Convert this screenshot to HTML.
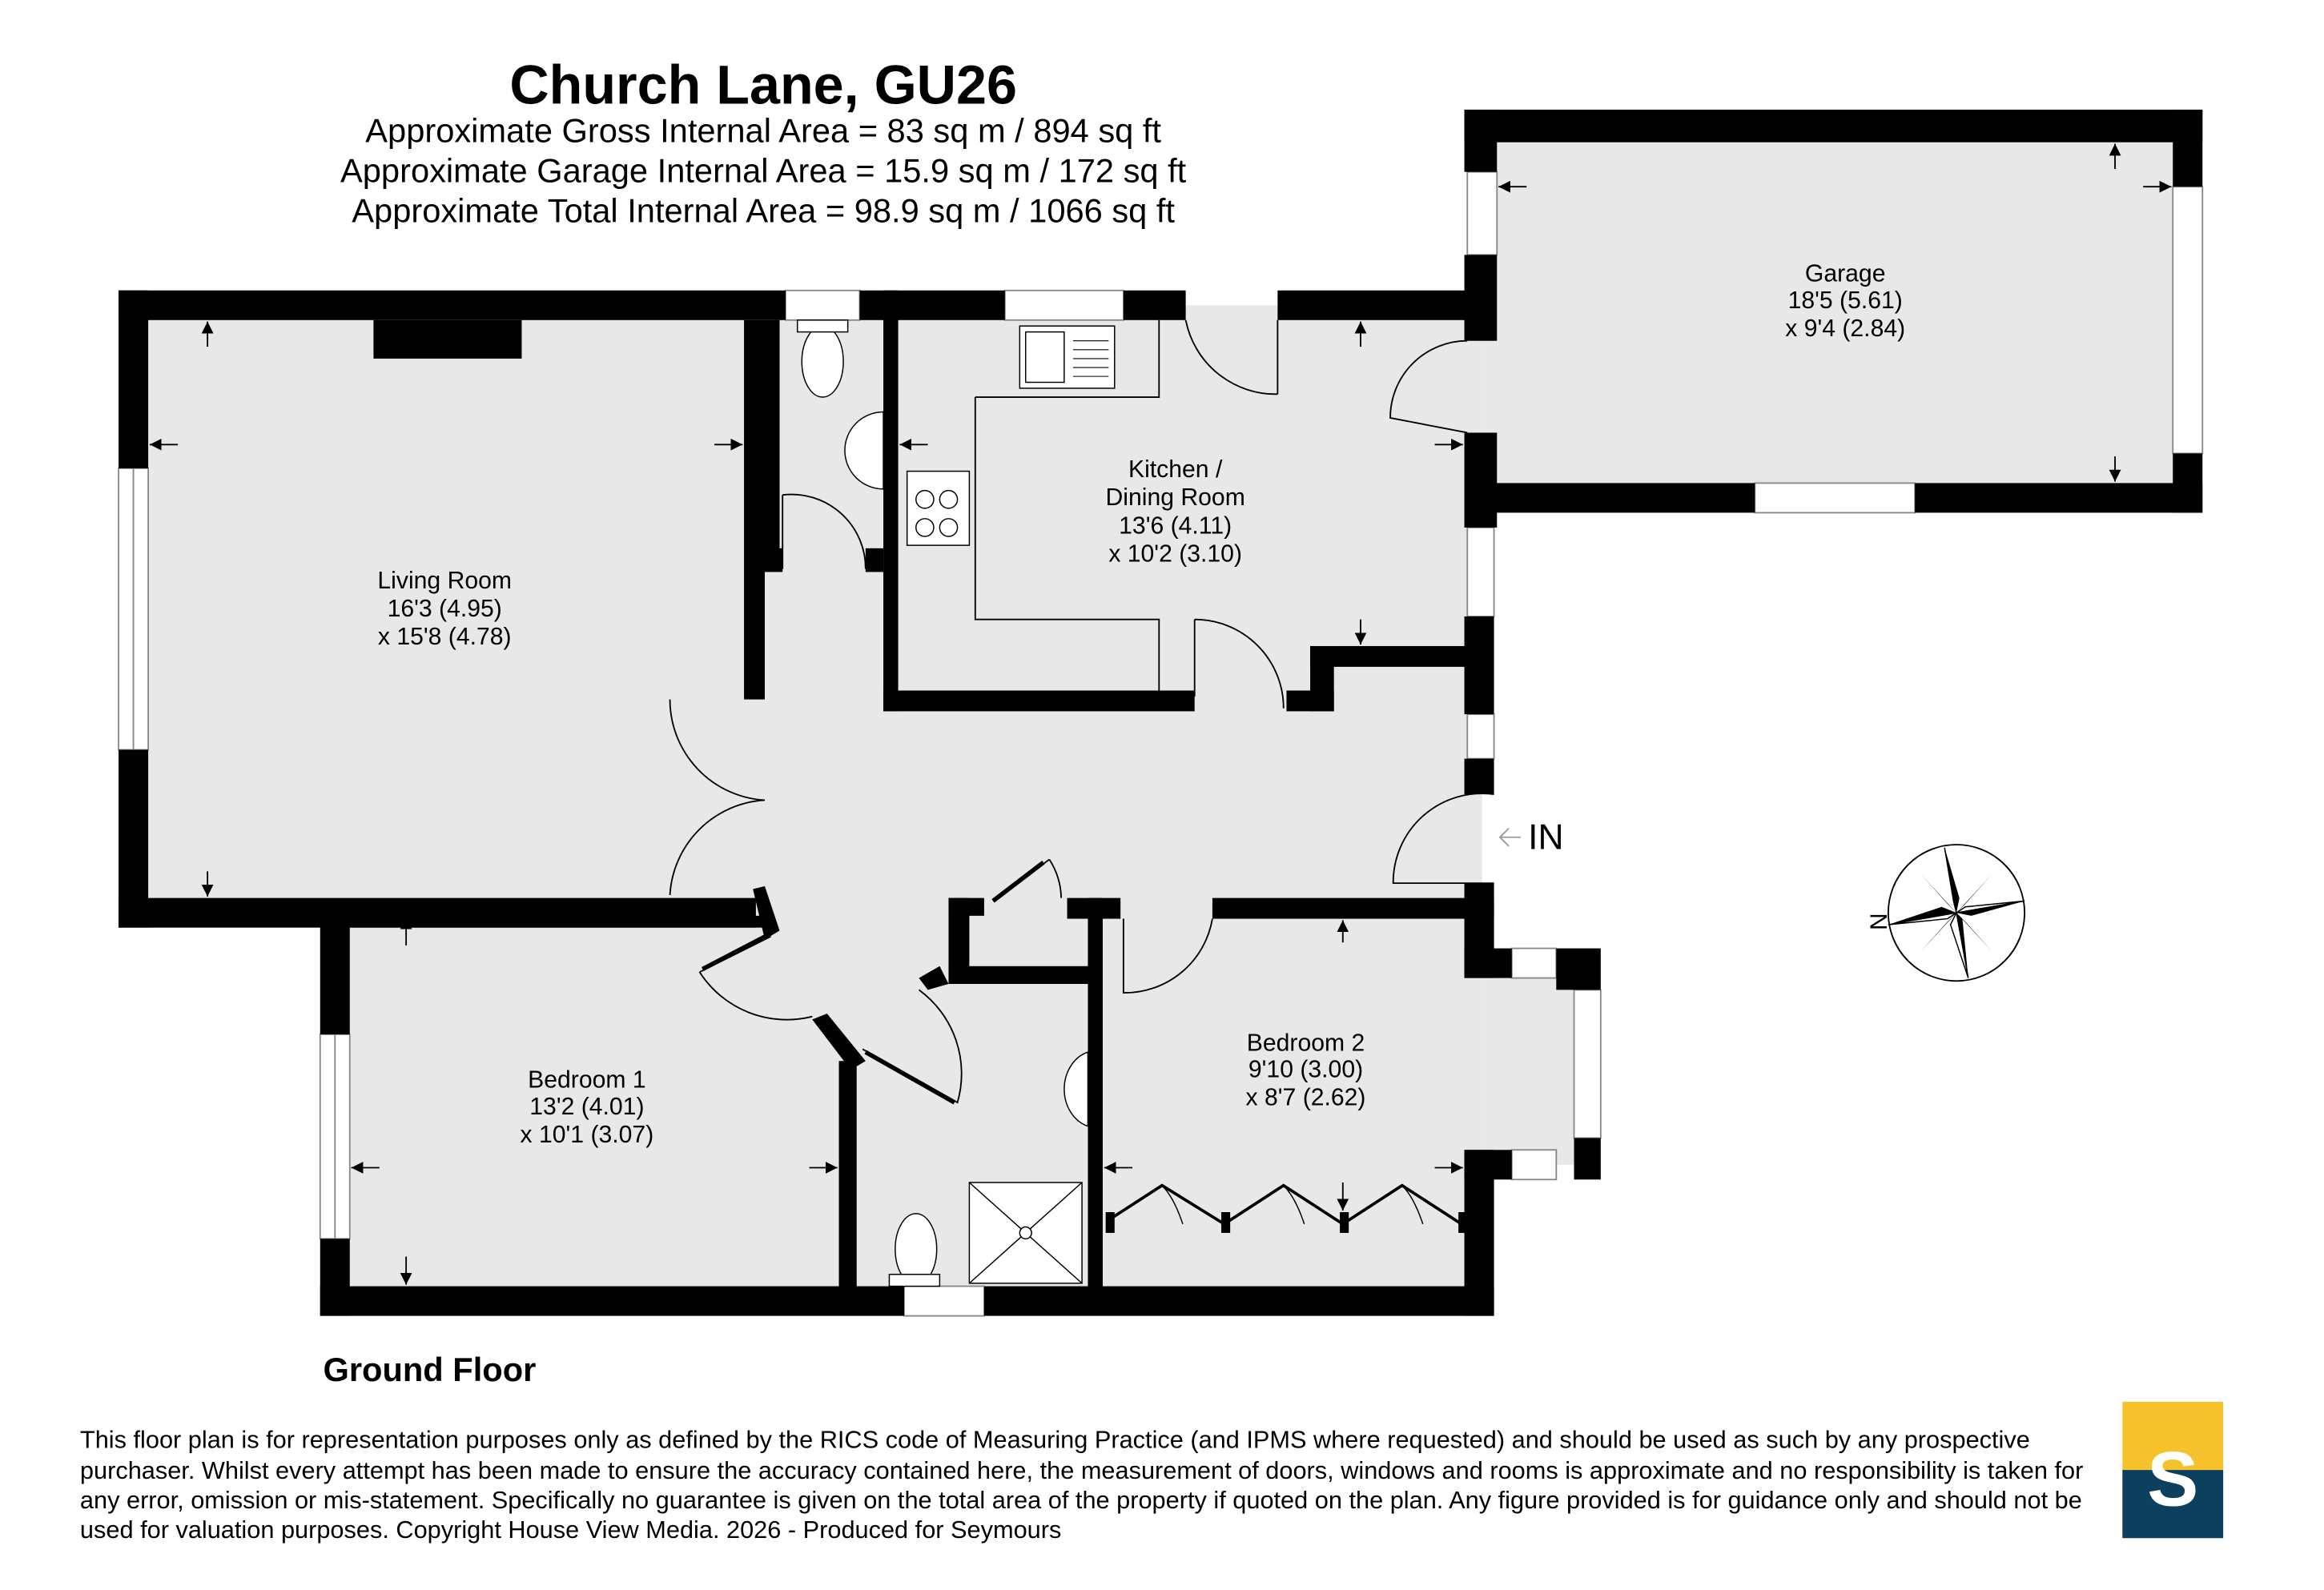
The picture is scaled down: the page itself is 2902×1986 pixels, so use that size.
<!DOCTYPE html>
<html><head><meta charset="utf-8"><style>html,body{margin:0;padding:0;background:#fff}svg{display:block}text{font-family:"Liberation Sans",sans-serif}</style></head>
<body>
<svg width="2902" height="1986" viewBox="0 0 1568 1073" preserveAspectRatio="none" xmlns="http://www.w3.org/2000/svg">
<defs><marker id="ah" viewBox="0 0 10 10" refX="10" refY="5" markerWidth="8" markerHeight="8" orient="auto-start-reverse" markerUnits="userSpaceOnUse"><path d="M10,5 L0,0 L0,10 Z" fill="#000"/></marker></defs>
<rect width="1568" height="1073" fill="#fff"/>
<g fill="#e8e8e8">
<rect x="90" y="206" width="420" height="410"/>
<rect x="500" y="206" width="500" height="410"/>
<rect x="226" y="610" width="520" height="268"/>
<rect x="740" y="610" width="260" height="268"/>
<rect x="1000" y="650" width="70" height="136"/>
<rect x="1000" y="86" width="476" height="250"/>
</g>
<g fill="#fff" stroke="#888" stroke-width="1">
<rect x="80" y="316" width="20" height="190"/><line x1="90" y1="316" x2="90" y2="506"/>
<rect x="216" y="698" width="20" height="138"/><line x1="226" y1="698" x2="226" y2="836"/>
<rect x="530" y="196" width="50" height="20"/>
<rect x="678" y="196" width="80" height="20"/>
<rect x="990" y="116" width="20" height="56"/>
<rect x="1466" y="126" width="20" height="180"/>
<rect x="1184" y="326" width="108" height="20"/>
<rect x="990" y="356" width="18" height="60"/>
<rect x="990" y="482" width="18" height="30"/>
<rect x="1062" y="668" width="18" height="100"/>
<rect x="1020" y="640" width="30" height="20"/>
<rect x="1020" y="776" width="30" height="20"/>
<rect x="610" y="868" width="54" height="20"/>
</g>
<g fill="#000">
<rect x="80" y="196" width="450" height="20"/>
<rect x="580" y="196" width="98" height="20"/>
<rect x="758" y="196" width="42" height="20"/>
<rect x="862" y="196" width="128" height="20"/>
<rect x="80" y="196" width="20" height="120"/>
<rect x="80" y="506" width="20" height="120"/>
<rect x="80" y="606" width="430" height="20"/>
<rect x="252" y="216" width="100" height="26"/>
<rect x="502" y="216" width="14" height="256"/>
<rect x="516" y="216" width="10" height="168"/>
<rect x="516" y="370" width="12" height="16"/>
<rect x="596" y="196" width="10" height="284"/>
<rect x="584" y="370" width="12" height="16"/>
<rect x="596" y="466" width="210" height="14"/>
<rect x="868" y="466" width="32" height="14"/>
<rect x="884" y="436" width="16" height="44"/>
<rect x="884" y="436" width="106" height="14"/>
<rect x="988" y="74" width="22" height="42"/>
<rect x="988" y="74" width="498" height="22"/>
<rect x="1466" y="74" width="20" height="52"/>
<rect x="1466" y="306" width="20" height="40"/>
<rect x="1008" y="326" width="176" height="20"/>
<rect x="1292" y="326" width="194" height="20"/>
<rect x="988" y="172" width="22" height="58"/>
<rect x="988" y="292" width="22" height="64"/>
<rect x="988" y="416" width="20" height="66"/>
<rect x="988" y="512" width="20" height="24"/>
<rect x="988" y="596" width="20" height="64"/>
<rect x="818" y="606" width="190" height="14"/>
<rect x="988" y="640" width="32" height="20"/>
<rect x="1050" y="640" width="30" height="28"/>
<rect x="1062" y="768" width="18" height="28"/>
<rect x="988" y="776" width="32" height="20"/>
<rect x="988" y="776" width="20" height="112"/>
<rect x="216" y="618" width="20" height="80"/>
<rect x="216" y="836" width="20" height="52"/>
<rect x="216" y="868" width="394" height="20"/>
<rect x="664" y="868" width="344" height="20"/>
<rect x="216" y="618" width="300" height="8"/>
<rect x="566" y="716" width="12" height="160"/>
<rect x="640" y="606" width="24" height="12"/>
<rect x="640" y="606" width="14" height="58"/>
<rect x="640" y="652" width="100" height="12"/>
<rect x="720" y="606" width="36" height="14"/>
<rect x="734" y="606" width="10" height="270"/>
<polygon points="508,600 516,598 526,628 516,634"/>
<polygon points="548,688 558,684 584,716 574,722"/>
<polygon points="620,660 634,652 640,664 626,668"/>
</g>
<g fill="none" stroke="#000" stroke-width="1">
<path d="M528,334 A50,50 0 0 1 584,384 M528,334 L528,384"/>
<path d="M806,418 A60,60 0 0 1 866,478 M806,418 L806,470"/>
<path d="M800,216 A62,62 0 0 0 862,266 M862,216 L862,266"/>
<path d="M990,230 A52,52 0 0 0 938,282 L990,292"/>
<path d="M452,472 A68,68 0 0 0 516,540 A68,68 0 0 0 452,604"/>
<path d="M1008,536 A60,60 0 0 0 940,596 L1008,596"/>
<path d="M818,620 A60,60 0 0 1 758,670 L758,620"/>
<path d="M708,580 A50,50 0 0 1 716,606 M708,580 L670,608"/>
<path d="M472,656 A70,70 0 0 0 548,686 M472,656 L520,632"/>
<path d="M620,668 A70,70 0 0 1 646,744 L582,708"/>
<path d="M658,268 L658,418 L782,418 L782,468 M658,268 L782,268 L782,216"/>
</g>
<g stroke="#000" stroke-width="3" fill="none"><line x1="670" y1="608" x2="704" y2="582"/><line x1="584" y1="710" x2="644" y2="744"/><line x1="474" y1="654" x2="520" y2="630"/></g>
<g fill="#fff" stroke="#000" stroke-width="0.8">
<ellipse cx="555" cy="244" rx="14" ry="24"/><rect x="538" y="216" width="34" height="8"/>
<path d="M596,278 A26,26 0 0 0 596,330 Z"/>
<path d="M734,710 A22,26 0 0 0 734,760 Z"/>
<rect x="688" y="220" width="64" height="42"/><rect x="692" y="224" width="26" height="34"/>
<rect x="612" y="318" width="42" height="50"/>
<circle cx="624" cy="337" r="6"/><circle cx="640" cy="337" r="6"/><circle cx="624" cy="356" r="6"/><circle cx="640" cy="356" r="6"/>
<rect x="654" y="798" width="76" height="68"/><path d="M654,798 L730,866 M730,798 L654,866"/><circle cx="692" cy="832" r="4"/>
<ellipse cx="618" cy="843" rx="14" ry="24"/><rect x="600" y="860" width="34" height="8"/>
</g>
<g stroke="#000" stroke-width="0.6"><line x1="724" y1="230" x2="748" y2="230"/><line x1="724" y1="236" x2="748" y2="236"/><line x1="724" y1="242" x2="748" y2="242"/><line x1="724" y1="248" x2="748" y2="248"/><line x1="724" y1="254" x2="748" y2="254"/></g>
<g fill="none" stroke="#000" stroke-width="2"><path d="M750,822 L784,800 L826,826 L866,800 L906,826 L946,800 L986,826"/></g>
<g stroke="#000" stroke-width="0.8" fill="none"><path d="M784,800 Q792,808 798,826 M866,800 Q874,808 880,826 M946,800 Q954,808 960,826"/></g>
<g fill="#000"><rect x="746" y="818" width="6" height="14"/><rect x="824" y="818" width="6" height="14"/><rect x="904" y="818" width="6" height="14"/><rect x="984" y="818" width="6" height="14"/></g>
<g stroke="#000" stroke-width="1" marker-start="url(#ah)">
<line x1="140" y1="217" x2="140" y2="234"/><line x1="140" y1="605" x2="140" y2="588"/>
<line x1="101" y1="300" x2="120" y2="300"/><line x1="501" y1="300" x2="482" y2="300"/>
<line x1="274" y1="619" x2="274" y2="638"/><line x1="274" y1="867" x2="274" y2="848"/>
<line x1="237" y1="788" x2="256" y2="788"/><line x1="565" y1="788" x2="546" y2="788"/>
<line x1="918" y1="217" x2="918" y2="234"/><line x1="918" y1="435" x2="918" y2="418"/>
<line x1="607" y1="300" x2="626" y2="300"/><line x1="987" y1="300" x2="968" y2="300"/>
<line x1="906" y1="621" x2="906" y2="636"/><line x1="906" y1="817" x2="906" y2="798"/>
<line x1="745" y1="788" x2="764" y2="788"/><line x1="987" y1="788" x2="968" y2="788"/>
<line x1="1011" y1="126" x2="1030" y2="126"/><line x1="1465" y1="126" x2="1446" y2="126"/>
<line x1="1427" y1="97" x2="1427" y2="114"/><line x1="1427" y1="325" x2="1427" y2="308"/>
</g>
<g font-size="16.3" text-anchor="middle" fill="#000">
<text x="300" y="397">Living Room</text><text x="300" y="416">16'3 (4.95)</text><text x="300" y="435">x 15'8 (4.78)</text>
<text x="793" y="322">Kitchen /</text><text x="793" y="341">Dining Room</text><text x="793" y="360">13'6 (4.11)</text><text x="793" y="379">x 10'2 (3.10)</text>
<text x="1245" y="190">Garage</text><text x="1245" y="208">18'5 (5.61)</text><text x="1245" y="227">x 9'4 (2.84)</text>
<text x="396" y="734">Bedroom 1</text><text x="396" y="752">13'2 (4.01)</text><text x="396" y="771">x 10'1 (3.07)</text>
<text x="881" y="709">Bedroom 2</text><text x="881" y="727">9'10 (3.00)</text><text x="881" y="746">x 8'7 (2.62)</text>
</g>
<text x="1031" y="573" font-size="24">IN</text>
<path d="M1026,565 L1012,565 M1018,559 L1012,565 L1018,571" stroke="#999" fill="none"/>
<circle cx="1320" cy="616" r="46" fill="#fff" stroke="#000"/>
<polygon points="1320,616 1366,608 1326,612" fill="#fff" stroke="#000" stroke-width="0.8"/><polygon points="1320,616 1366,608 1330,618" fill="#000"/>
<polygon points="1320,616 1274,624 1314,620" fill="#fff" stroke="#000" stroke-width="0.8"/><polygon points="1320,616 1274,624 1310,612" fill="#000"/>
<polygon points="1320,616 1312,572 1318,608" fill="#fff" stroke="#000" stroke-width="0.8"/><polygon points="1320,616 1312,572 1322,606" fill="#000"/>
<polygon points="1320,616 1328,660 1324,620" fill="#000"/><polygon points="1320,616 1328,660 1316,624" fill="#fff" stroke="#000" stroke-width="0.8"/>
<polygon points="1320,616 1344,590 1326,610" fill="#000"/><polygon points="1320,616 1296,642 1314,622" fill="#000"/>
<polygon points="1320,616 1296,590 1314,610" fill="#000"/><polygon points="1320,616 1344,642 1326,622" fill="#000"/>
<text x="1262" y="622" font-size="16" transform="rotate(90 1262 622)" text-anchor="middle">N</text>
<text x="515" y="70" font-size="36.9" font-weight="bold" text-anchor="middle">Church Lane, GU26</text>
<g font-size="22.5" text-anchor="middle"><text x="515" y="96">Approximate Gross Internal Area = 83 sq m / 894 sq ft</text><text x="515" y="123">Approximate Garage Internal Area = 15.9 sq m / 172 sq ft</text><text x="515" y="150">Approximate Total Internal Area = 98.9 sq m / 1066 sq ft</text></g>
<text x="218" y="932" font-size="22.5" font-weight="bold">Ground Floor</text>
<g font-size="16.6"><text x="54" y="977">This floor plan is for representation purposes only as defined by the RICS code of Measuring Practice (and IPMS where requested) and should be used as such by any prospective</text><text x="54" y="998">purchaser. Whilst every attempt has been made to ensure the accuracy contained here, the measurement of doors, windows and rooms is approximate and no responsibility is taken for</text><text x="54" y="1018">any error, omission or mis-statement. Specifically no guarantee is given on the total area of the property if quoted on the plan. Any figure provided is for guidance only and should not be</text><text x="54" y="1038">used for valuation purposes. Copyright House View Media. 2026 - Produced for Seymours</text></g>
<rect x="1432" y="946" width="68" height="46" fill="#f5c22b"/><rect x="1432" y="992" width="68" height="46" fill="#0d3f5e"/>
<text x="1466" y="1016" font-size="52" font-family="Liberation Serif,serif" font-weight="bold" fill="#fff" text-anchor="middle">S</text>
</svg>
</body></html>
